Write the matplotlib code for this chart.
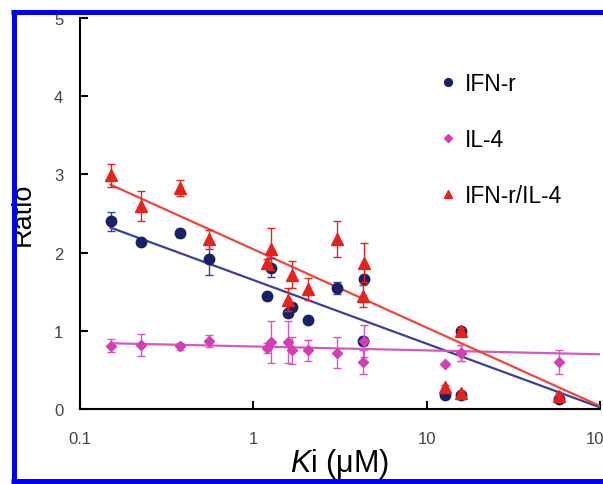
import matplotlib
matplotlib.use("Agg")
import matplotlib.pyplot as plt
import numpy as np
from matplotlib.lines import Line2D

plt.rcParams["font.family"] = ["Liberation Sans", "DejaVu Sans"]
plt.rcParams["mathtext.fontset"] = "custom"
plt.rcParams["mathtext.it"] = "Liberation Sans:italic"
plt.rcParams["mathtext.rm"] = "Liberation Sans"

# Ki values (uM) of the compounds
ki = [0.15, 0.226, 0.376, 0.558, 1.20, 1.27, 1.59, 1.68, 2.08, 3.05, 4.35, 4.29, 12.8, 15.9, 15.9, 58.0]

# IFN-r ratio
ifn = [2.40, 2.14, 2.25, 1.92, 1.44, 1.81, 1.23, 1.30, 1.14, 1.55, 1.66, 0.87, 0.18, 1.00, 0.18, 0.13]
ifn_err = [0.12, 0.03, 0.05, 0.20, 0.04, 0.12, 0.04, 0.04, 0.04, 0.08, 0.04, 0.05, 0.02, 0.03, 0.02, 0.02]

# IL-4 ratio
il4 = [0.81, 0.82, 0.80, 0.87, 0.78, 0.86, 0.86, 0.75, 0.75, 0.72, 0.87, 0.60, 0.57, 0.72, 0.72, 0.60]
il4_err = [0.08, 0.14, 0.04, 0.08, 0.06, 0.27, 0.27, 0.17, 0.13, 0.20, 0.20, 0.15, 0.02, 0.10, 0.10, 0.15]

# IFN-r / IL-4 ratio
ratio = [2.99, 2.60, 2.83, 2.17, 1.87, 2.05, 1.40, 1.72, 1.53, 2.17, 1.87, 1.45, 0.28, 1.00, 0.20, 0.17]
ratio_err = [0.15, 0.19, 0.10, 0.12, 0.05, 0.27, 0.15, 0.17, 0.14, 0.23, 0.25, 0.14, 0.03, 0.04, 0.03, 0.03]

# logarithmic trend lines: y = a + b*log10(Ki)
fit_range = [0.15, 100]
ifn_fit = (1.65, -0.814)
il4_fit = (0.80, -0.05)
ratio_fit = (2.044, -1.002)

c_ifn, c_ifn_line = "#1b2169", "#3b3f9a"
c_il4, c_il4_line = "#d63cb4", "#d857bd"
c_ratio, c_ratio_line = "#e8221a", "#f0463a"

fig = plt.figure(figsize=(6.03, 4.85), dpi=100)
ax = fig.add_axes([0.1327, 0.1546, 0.862, 0.806])

xf = np.array(fit_range)
for (a, b), col in [(ifn_fit, c_ifn_line), (il4_fit, c_il4_line), (ratio_fit, c_ratio_line)]:
    ax.plot(xf, a + b * np.log10(xf), color=col, lw=1.6, zorder=2)

ax.errorbar(ki, ifn, yerr=ifn_err, fmt="o", ms=7.5, color=c_ifn, ecolor=c_ifn_line,
            elinewidth=1, capsize=3, capthick=1, label="IFN-r", zorder=3)
ax.errorbar(ki, il4, yerr=il4_err, fmt="D", ms=5.5, color=c_il4, ecolor=c_il4_line,
            elinewidth=1, capsize=3, capthick=1, label="IL-4", zorder=4)
ax.errorbar(ki, ratio, yerr=ratio_err, fmt="^", ms=8, color=c_ratio, ecolor=c_ratio,
            elinewidth=1, capsize=3, capthick=1, label="IFN-r/IL-4", zorder=5)

ax.set_xscale("log")
ax.set_xlim(0.1, 100)
ax.set_ylim(0, 5)
ax.set_xticks([0.1, 1, 10, 100])
ax.set_xticklabels(["0.1", "1", "10", "100"])
ax.minorticks_off()
ax.set_yticks([0, 1, 2, 3, 4, 5])
for s in ["top", "right"]:
    ax.spines[s].set_visible(False)
for s in ["left", "bottom"]:
    ax.spines[s].set_linewidth(1.5)
ax.tick_params(axis="x", direction="in", length=6, width=1.5, pad=16, labelsize=12, labelcolor="#444444")
ax.tick_params(axis="y", direction="in", length=6, width=1.5, pad=12, labelsize=12, labelcolor="#444444")

ax.set_xlabel(r"$K$i (μM)", fontsize=22, labelpad=0)
ax.set_ylabel("Ratio", fontsize=19.5, labelpad=13)

# legend shows markers only, without the error bars
handles, labels = ax.get_legend_handles_labels()
handles = [h[0] for h in handles]
ax.legend(handles, labels, loc="upper left", bbox_to_anchor=(0.731, 0.850),
          bbox_transform=fig.transFigure, frameon=False, fontsize=16.4,
          handlelength=0.6, handletextpad=0.45, borderpad=0, borderaxespad=0,
          labelspacing=1.45, markerscale=0.75)

# blue frame (left, top and bottom edges; right edge lies outside the picture)
frame = dict(color="#0000ff", lw=3.6, zorder=10, transform=fig.transFigure, solid_capstyle="butt")
fig.add_artist(Line2D([0.023, 0.023], [0.0072, 0.9742], **frame))
fig.add_artist(Line2D([0.019, 1.0], [0.9742, 0.9742], **frame))
fig.add_artist(Line2D([0.019, 1.0], [0.0072, 0.0072], **frame))

fig.savefig("out.png", dpi=100)
